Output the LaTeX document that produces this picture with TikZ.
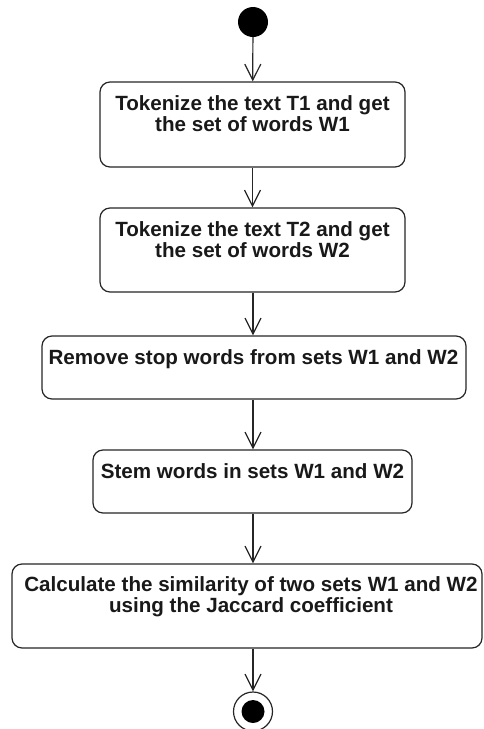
\documentclass[tikz,border=0pt]{standalone}
\usepackage{fontspec}
\setmainfont{Liberation Sans}
\usetikzlibrary{arrows.meta}
\begin{document}
\begin{tikzpicture}[x=1pt,y=-1pt,
  actbox/.style={draw=black!85, line width=1.2pt, rounded corners=10pt, inner sep=0pt, fill=white},
  txt/.style={inner sep=0pt, align=center, anchor=north, font=\bfseries\fontsize{20.6}{20.5}\selectfont, text=black!90},
  flow/.style={draw=black!85, line width=1.2pt, -{Straight Barb[length=16pt,width=16pt,line width=1.2pt]}}]
\useasboundingbox (0,0) rectangle (483,729);
% start
\node[circle, fill=black, inner sep=0pt, minimum size=30pt] (start) at (253,22) {};
% boxes
\node[actbox, minimum width=305pt, minimum height=85pt] (b1) at (252.5,124.5) {};
\node[txt] (t1) at (252.5,95.5) {Tokenize the text T1 and get\\the set of words W1};
\node[actbox, minimum width=305pt, minimum height=84pt] (b2) at (252.5,250) {};
\node[txt] (t2) at (252.5,221.5) {Tokenize the text T2 and get\\the set of words W2};
\node[actbox, minimum width=424pt, minimum height=63pt] (b3) at (254,367.5) {};
\node[txt] (t3) at (253.5,349.5) {Remove stop words from sets W1 and W2};
\node[actbox, minimum width=319pt, minimum height=63pt] (b4) at (252.5,481.5) {};
\node[txt] (t4) at (252.5,463.5) {Stem words in sets W1 and W2};
\node[actbox, minimum width=470pt, minimum height=84pt] (b5) at (247,606) {};
\node[txt] (t5) at (251,576.5) {Calculate the similarity of two sets W1 and W2\\using the Jaccard coefficient};
% end
\node[circle, draw=black!85, line width=1.2pt, fill=white, inner sep=0pt, minimum size=39pt] (stop) at (253,711.5) {};
\node[circle, fill=black, inner sep=0pt, minimum size=23pt] (stopdot) at (253,711.5) {};
% connectors
\draw[flow] (start) -- (b1);
\draw[flow] (b1) -- (b2);
\draw[flow] (b2.south -| start) -- (b3.north -| start);
\draw[flow] (b3.south -| start) -- (b4.north -| start);
\draw[flow] (b4.south -| start) -- (b5.north -| start);
\draw[flow] (b5.south -| start) -- (stop);
\end{tikzpicture}
\end{document}
